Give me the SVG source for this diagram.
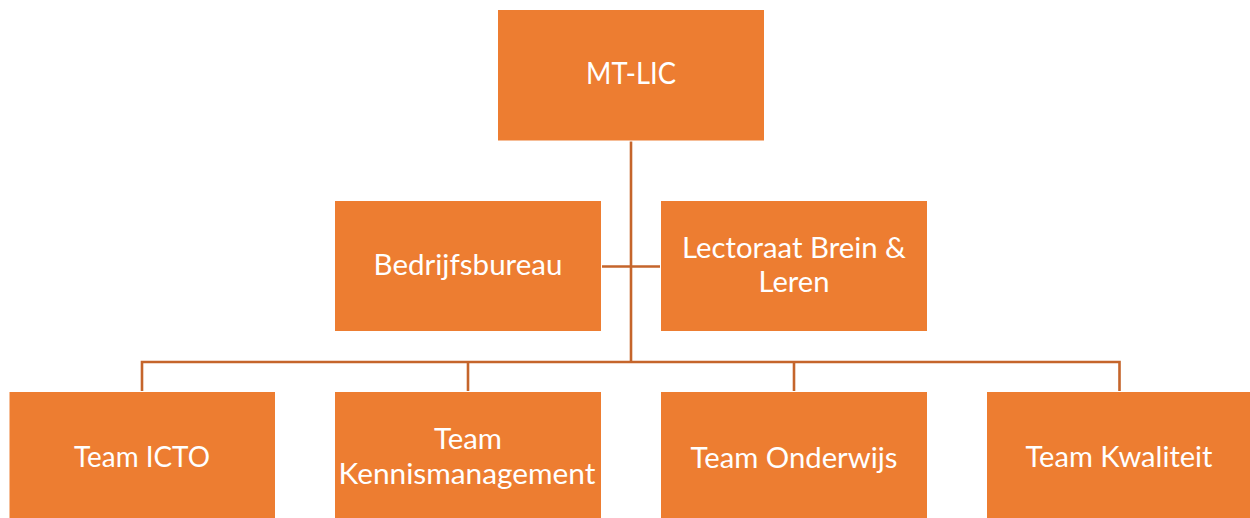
<svg xmlns="http://www.w3.org/2000/svg" width="1250" height="518" viewBox="0 0 1250 518">
<style>
.box{fill:#ED7D31;stroke:#FFFFFF;stroke-width:1}
.lbl{font-family:Lato,"Liberation Sans",sans-serif;fill:#FFFFFF;text-anchor:middle}
.con{stroke:#C5652B;stroke-width:2.6;fill:none}
</style>
<rect width="1250" height="518" fill="#FFFFFF"/>
<g id="connectors">
<line class="con" x1="631" y1="141" x2="631" y2="362"/>
<line class="con" x1="601" y1="266.5" x2="660" y2="266.5"/>
<polyline class="con" points="142,391 142,362 1119.5,362 1119.5,391"/>
<line class="con" x1="468" y1="362" x2="468" y2="391"/>
<line class="con" x1="794" y1="362" x2="794" y2="391"/>
</g>
<g id="mt-lic">
<rect class="box" x="497.5" y="9.5" width="267" height="131.5"/>
<text class="lbl" x="631" y="83.5" font-size="30" textLength="90" lengthAdjust="spacingAndGlyphs">MT-LIC</text>
</g>
<g id="bedrijfsbureau">
<rect class="box" x="334.5" y="200.5" width="267" height="131"/>
<text class="lbl" x="468" y="274.5" font-size="28" textLength="189" lengthAdjust="spacingAndGlyphs">Bedrijfsbureau</text>
</g>
<g id="lectoraat">
<rect class="box" x="660.5" y="200.5" width="267" height="131"/>
<text class="lbl" x="794" y="258" font-size="28" textLength="224" lengthAdjust="spacingAndGlyphs">Lectoraat Brein &amp;</text>
<text class="lbl" x="794" y="292" font-size="28" textLength="71" lengthAdjust="spacingAndGlyphs">Leren</text>
</g>
<g id="team-icto">
<rect class="box" x="9" y="391.5" width="266.5" height="132"/>
<text class="lbl" x="142" y="467" font-size="28" textLength="136" lengthAdjust="spacingAndGlyphs">Team ICTO</text>
</g>
<g id="team-kennismanagement">
<rect class="box" x="334.5" y="391.5" width="267" height="132"/>
<text class="lbl" x="468" y="448.5" font-size="28" textLength="68" lengthAdjust="spacingAndGlyphs">Team</text>
<text class="lbl" x="467" y="483.5" font-size="28" textLength="257" lengthAdjust="spacingAndGlyphs">Kennismanagement</text>
</g>
<g id="team-onderwijs">
<rect class="box" x="660.5" y="391.5" width="267" height="132"/>
<text class="lbl" x="794" y="467.5" font-size="28" textLength="207" lengthAdjust="spacingAndGlyphs">Team Onderwijs</text>
</g>
<g id="team-kwaliteit">
<rect class="box" x="986.5" y="391.5" width="266.5" height="132"/>
<text class="lbl" x="1119" y="467" font-size="28" textLength="187" lengthAdjust="spacingAndGlyphs">Team Kwaliteit</text>
</g>
</svg>
